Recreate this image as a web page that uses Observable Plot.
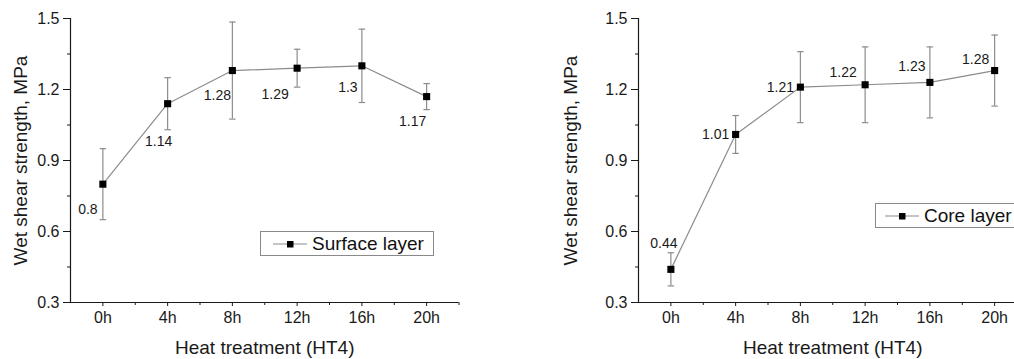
<!DOCTYPE html>
<html><head><meta charset="utf-8">
<script src="https://cdn.jsdelivr.net/npm/d3@7"></script>
<script src="https://cdn.jsdelivr.net/npm/@observablehq/plot@0.6"></script>
<style>
body{margin:0;background:#fff;font-family:"Liberation Sans",Arial,sans-serif;}
#wrap{position:relative;width:1014px;height:359px;overflow:hidden;background:#fff;}
svg.panel{position:absolute;top:0;font-family:"Liberation Sans",Arial,sans-serif !important;}
.legend{position:absolute;border:1px solid #8a8a8a;background:#fff;box-sizing:border-box;display:flex;align-items:center;font-size:19px;color:#111;white-space:nowrap;}
.legend svg{display:block;}
</style></head>
<body><div id="wrap"></div>
<script>
// ---- data ----
const hours = [0, 4, 8, 12, 16, 20];
const tickLabels = ["0h", "4h", "8h", "12h", "16h", "20h"];
const surfaceMean = [0.8, 1.14, 1.28, 1.29, 1.3, 1.17];
const surfaceErr = [0.15, 0.11, 0.205, 0.08, 0.155, 0.055];
const coreMean = [0.44, 1.01, 1.21, 1.22, 1.23, 1.28];
const coreErr = [0.07, 0.08, 0.15, 0.16, 0.15, 0.15];
const yTicks = [0.3, 0.6, 0.9, 1.2, 1.5];
const yMinor = [0.45, 0.75, 1.05, 1.35];
const xMinor = [2, 6, 10, 14, 18, 22];
const xTitle = "Heat treatment (HT4)";
const yTitle = "Wet shear strength, MPa";
const seriesNames = ["Surface layer", "Core layer"];

// ---- layout (label offsets in px) ----
const surfaceLabelOffsets = [[-15, 25], [-9, 38], [-15, 25], [-22, 26], [-14, 22], [-14, 25]];
const coreLabelOffsets = [[-7, -26], [-20, 0], [-20, 0], [-22, -12], [-18, -16], [-19, -11]];

const LINE = "#8c8c8c";
const AX = "#1a1a1a";

function panel(mean, err, offsets, marginLeft, width, yTitleDx) {
  const idx = d3.range(hours.length);
  const fmt = d3.format(".1f");
  const labelMarks = idx.map(i => Plot.text([i], {
    x: j => hours[j], y: j => mean[j], text: j => String(mean[j]),
    dx: offsets[i][0], dy: offsets[i][1], fontSize: 14, fill: "#1a1a1a", lineAnchor: "middle"
  }));
  const svg = Plot.plot({
    width, height: 359,
    marginLeft, marginRight: width - marginLeft - 388.5, marginTop: 18, marginBottom: 57,
    style: {fontFamily: "'Liberation Sans', Arial, sans-serif", color: AX, background: "#fff", overflow: "visible"},
    x: {domain: [-2, 22]},
    y: {domain: [0.3, 1.5]},
    marks: [
      Plot.axisY({ticks: yTicks, tickSize: 7, tickPadding: 4, tickFormat: fmt, label: null, fontSize: 16}),
      Plot.axisY({ticks: yMinor, tickSize: 3, tickFormat: () => "", label: null}),
      Plot.axisX({ticks: hours, tickSize: 4, tickPadding: 5, tickFormat: d => tickLabels[hours.indexOf(d)], label: null, fontSize: 16}),
      Plot.axisX({ticks: xMinor, tickSize: 3, tickFormat: () => "", label: null}),
      Plot.ruleX([-2], {y1: 0.3, y2: 1.5, stroke: AX, strokeWidth: 1.2}),
      Plot.ruleY([0.3], {x1: -2, x2: 22, stroke: AX, strokeWidth: 1.2}),
      Plot.ruleX(idx, {x: i => hours[i], y1: i => mean[i] - err[i], y2: i => mean[i] + err[i], stroke: LINE, strokeWidth: 1.2}),
      Plot.link(idx, {x1: i => hours[i] - 0.2, x2: i => hours[i] + 0.2, y1: i => mean[i] + err[i], y2: i => mean[i] + err[i], stroke: LINE, strokeWidth: 1.2}),
      Plot.link(idx, {x1: i => hours[i] - 0.2, x2: i => hours[i] + 0.2, y1: i => mean[i] - err[i], y2: i => mean[i] - err[i], stroke: LINE, strokeWidth: 1.2}),
      Plot.line(idx, {x: i => hours[i], y: i => mean[i], stroke: LINE, strokeWidth: 1.2}),
      Plot.dot(idx, {x: i => hours[i], y: i => mean[i], symbol: "square", r: 4, fill: "#000", stroke: "none"}),
      ...labelMarks,
      Plot.text([yTitle], {frameAnchor: "left", textAnchor: "middle", rotate: -90, dx: yTitleDx, fontSize: 19, fill: "#1a1a1a", lineAnchor: "middle"}),
      Plot.text([xTitle], {frameAnchor: "bottom", textAnchor: "middle", dy: 45, fontSize: 19, fill: "#1a1a1a", lineAnchor: "middle"})
    ]
  });
  svg.querySelectorAll('g[aria-label$="tick label"]').forEach(g => {
    g.setAttribute("font-size", "16");
    g.style.fontSize = "16px";
    g.setAttribute("fill", "#1a1a1a");
    g.querySelectorAll("text").forEach(t => { t.style.fontSize = "16px"; });
  });
  return svg;
}

const wrap = document.getElementById("wrap");
const p1 = panel(surfaceMean, surfaceErr, surfaceLabelOffsets, 70, 480, -50);
p1.classList.add("panel"); p1.style.left = "0px";
wrap.appendChild(p1);
const p2 = panel(coreMean, coreErr, coreLabelOffsets, 78, 490, -68);
p2.classList.add("panel"); p2.style.left = "560px";
wrap.appendChild(p2);

function legend(name, left, top, width, padLeft, gap) {
  const div = document.createElement("div");
  div.className = "legend";
  Object.assign(div.style, {left: left + "px", top: top + "px", width: width + "px", height: "25px", paddingLeft: padLeft + "px"});
  const sym = `<svg width="34" height="10"><line x1="0" y1="5" x2="34" y2="5" stroke="${LINE}" stroke-width="1.2"/><rect x="14" y="2" width="6.5" height="6.5" fill="#000"/></svg>`;
  div.innerHTML = sym + `<span style="margin-left:${gap}px">${name}</span>`;
  wrap.appendChild(div);
}
legend(seriesNames[0], 260, 231, 174, 12, 5);
legend(seriesNames[1], 875, 203, 170, 9, 5);
</script>
</body></html>
